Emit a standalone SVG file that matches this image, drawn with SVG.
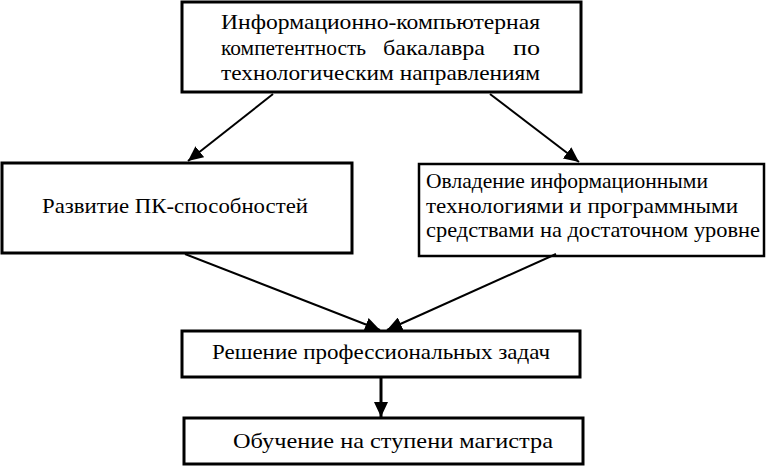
<svg xmlns="http://www.w3.org/2000/svg" width="768" height="466" viewBox="0 0 768 466">
<style>
.box{fill:#fff;stroke:#000;stroke-width:3}
.c{stroke:#000;stroke-width:2;fill:none}
</style>
<defs>
<marker id="ah" markerUnits="userSpaceOnUse" markerWidth="16" markerHeight="14" refX="15" refY="7" orient="auto">
<path d="M0,0 L15,7 L0,14 Z" fill="#000"/>
</marker>
</defs>
<rect width="768" height="466" fill="#fff"/>
<g font-family="Liberation Serif" font-size="22" fill="#000">
<g id="n1">
<rect class="box" x="182" y="2" width="399" height="90"/>
<text x="221" y="29" textLength="319" lengthAdjust="spacingAndGlyphs">Информационно-компьютерная</text>
<text x="221" y="55" textLength="145" lengthAdjust="spacingAndGlyphs">компетентность</text>
<text x="383" y="55" textLength="102" lengthAdjust="spacingAndGlyphs">бакалавра</text>
<text x="513" y="55" textLength="27" lengthAdjust="spacingAndGlyphs">по</text>
<text x="221" y="80" textLength="319" lengthAdjust="spacingAndGlyphs">технологическим направлениям</text>
</g>
<g id="n2">
<rect class="box" x="2" y="163" width="350" height="90"/>
<text x="42" y="213" textLength="266" lengthAdjust="spacingAndGlyphs">Развитие ПК-способностей</text>
</g>
<g id="n3">
<rect class="box" x="419" y="164" width="345" height="92" style="stroke-width:2.5"/>
<text x="426" y="188" textLength="282" lengthAdjust="spacingAndGlyphs">Овладение информационными</text>
<text x="426" y="213" textLength="312" lengthAdjust="spacingAndGlyphs">технологиями и программными</text>
<text x="426" y="237" textLength="334" lengthAdjust="spacingAndGlyphs">средствами на достаточном уровне</text>
</g>
<g id="n4">
<rect class="box" x="182" y="331" width="398" height="46"/>
<text x="212" y="359" textLength="338" lengthAdjust="spacingAndGlyphs">Решение профессиональных задач</text>
</g>
<g id="n5">
<rect class="box" x="184" y="418" width="399" height="46"/>
<text x="233" y="448" textLength="320" lengthAdjust="spacingAndGlyphs">Обучение на ступени магистра</text>
</g>
</g>
<g id="connectors">
<line class="c" x1="273" y1="94" x2="188" y2="161" marker-end="url(#ah)"/>
<line class="c" x1="490" y1="94" x2="579" y2="162" marker-end="url(#ah)"/>
<line class="c" x1="185" y1="254" x2="380" y2="330" marker-end="url(#ah)"/>
<line class="c" x1="556" y1="254" x2="387" y2="330" marker-end="url(#ah)"/>
<line class="c" x1="381" y1="378" x2="381" y2="417" style="stroke-width:3" marker-end="url(#ah)"/>
</g>
</svg>
